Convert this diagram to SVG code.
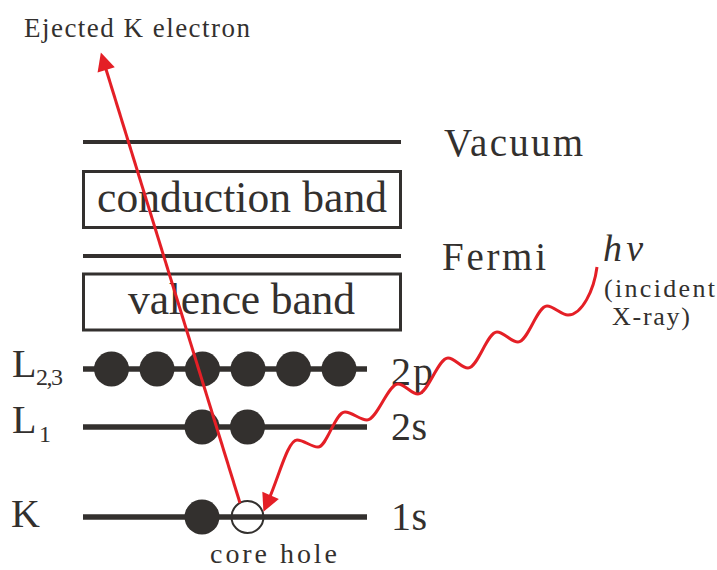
<svg xmlns="http://www.w3.org/2000/svg" width="717" height="570" viewBox="0 0 717 570">
<style>
  text { font-family: "Liberation Serif", "Times New Roman", serif; fill: #33302e; }
  .lvl { stroke: #33302e; stroke-width: 4; fill: none; }
  .orb { stroke: #33302e; stroke-width: 5.5; fill: none; }
  .band { stroke: #33302e; stroke-width: 3; fill: #ffffff; }
  .e { fill: #33302e; }
  .hole { fill: none; stroke: #33302e; stroke-width: 2; }
  .ray { stroke: #e41f26; stroke-width: 3; fill: none; marker-end: url(#ah); }
</style>
<defs>
  <marker id="ah" markerUnits="userSpaceOnUse" markerWidth="24" markerHeight="24" viewBox="-5 -12 24 24" refX="0" refY="0" orient="auto" overflow="visible">
    <path d="M-4,-9 L14,0 L-4,9 z" fill="#e41f26"/>
  </marker>
</defs>
<rect width="717" height="570" fill="#ffffff"/>

<g id="vacuum">
  <line class="lvl" x1="83" y1="142" x2="401" y2="142"/>
  <text x="444" y="156" font-size="39" textLength="139" lengthAdjust="spacing">Vacuum</text>
</g>
<g id="conduction-band">
  <rect class="band" x="83.5" y="171.5" width="317" height="56"/>
  <text x="97" y="212" font-size="43.5" textLength="290" lengthAdjust="spacing">conduction band</text>
</g>
<g id="fermi">
  <line class="lvl" x1="83" y1="256" x2="401" y2="256"/>
  <text x="442" y="270" font-size="39" textLength="104" lengthAdjust="spacing">Fermi</text>
</g>
<g id="valence-band">
  <rect class="band" x="83.5" y="274" width="317" height="56"/>
  <text x="128" y="314" font-size="43.5" textLength="227" lengthAdjust="spacing">valence band</text>
</g>

<g id="level-L23">
  <line class="orb" x1="83" y1="369" x2="367" y2="369"/>
  <circle class="e" cx="111.5" cy="369" r="17.5"/>
  <circle class="e" cx="157" cy="369" r="17.5"/>
  <circle class="e" cx="202.5" cy="369" r="17.5"/>
  <circle class="e" cx="248" cy="369" r="17.5"/>
  <circle class="e" cx="293.5" cy="369" r="17.5"/>
  <circle class="e" cx="339" cy="369" r="17.5"/>
  <text x="12" y="377" font-size="40">L</text>
  <text x="36" y="385" font-size="24" textLength="27" lengthAdjust="spacing">2,3</text>
  <text x="391" y="385" font-size="40" textLength="42" lengthAdjust="spacing">2p</text>
</g>
<g id="level-L1">
  <line class="orb" x1="83" y1="427" x2="367" y2="427"/>
  <circle class="e" cx="202" cy="427" r="17.5"/>
  <circle class="e" cx="247.5" cy="427" r="17.5"/>
  <text x="12" y="433" font-size="40">L</text>
  <text x="39" y="442" font-size="24">1</text>
  <text x="391" y="440" font-size="40" textLength="36" lengthAdjust="spacing">2s</text>
</g>
<g id="level-K">
  <line class="orb" x1="83" y1="517" x2="367" y2="517"/>
  <circle class="e" cx="202" cy="517" r="17.5"/>
  <circle class="hole" cx="247.5" cy="517" r="16"/>
  <text x="11" y="527" font-size="40" textLength="31" lengthAdjust="spacing">K</text>
  <text x="391" y="530" font-size="40" textLength="36" lengthAdjust="spacing">1s</text>
  <text x="210" y="563" font-size="28" textLength="127" lengthAdjust="spacing">core hole</text>
</g>

<g id="labels">
  <text x="24" y="37" font-size="27" textLength="226" lengthAdjust="spacing">Ejected K electron</text>
  <text x="603" y="261" font-size="38" font-style="italic" textLength="40" lengthAdjust="spacing">hv</text>
  <text x="604" y="297" font-size="26" textLength="111" lengthAdjust="spacing">(incident</text>
  <text x="612" y="325" font-size="26" textLength="78" lengthAdjust="spacing">X-ray)</text>
</g>

<g id="connectors">
  <path id="ejected" class="ray" d="M240,503 L105,66"/>
  <path id="xray" class="ray" d="M597,267 C594,290 582,315 568,315 C561,315 554,306 547,306 C537,306 528,342 518,342 C511,342 504,332 497,332 C487,332 478,368 468,368 C461,368 455,358 448,358 C438,358 428,394 418,394 C411,394 405,384 398,384 C388,384 377,420 367,420 C360,420 352,412 345,412 C335,412 327,447 318,447 C311,447 304,440 297,440 C288,440 279,476 269,499"/>
</g>
</svg>
